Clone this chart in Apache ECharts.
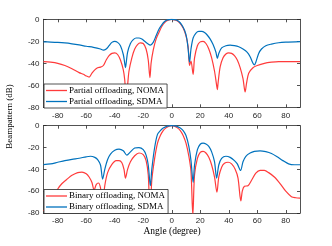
<!DOCTYPE html>
<html>
<head>
<meta charset="utf-8">
<script src="https://cdn.jsdelivr.net/npm/echarts@6/dist/echarts.min.js"></script>
<style>html,body{margin:0;padding:0;background:#fff;}#c{width:332px;height:246px;}</style>
</head>
<body>
<div id="c"></div>
<script>
const xTicks = [-80, -60, -40, -20, 0, 20, 40, 60, 80];
const yTicks = [0, -20, -40, -60, -80];
const seriesNames = ['Partial offloading, NOMA', 'Partial offloading, SDMA', 'Binary offloading, NOMA', 'Binary offloading, SDMA'];

const partialNoma = [[-90,-38.5],[-85,-39],[-80,-40],[-75,-42],[-70,-45],[-65,-48.5],[-62,-50],[-60,-51.5],[-58,-52.5],[-56,-49],[-54,-46],[-52,-44],[-50,-43.5],[-48,-42],[-46,-37],[-44,-33],[-42,-31],[-40,-30.5],[-38,-32],[-36,-37],[-34,-46],[-33,-55],[-32,-72],[-31,-60],[-30,-47],[-28,-35],[-26,-27],[-24,-23],[-22,-21.5],[-20,-22],[-18,-27],[-16.5,-37],[-15.3,-53],[-14.5,-40],[-13,-28],[-11,-18],[-9,-12],[-7,-6.5],[-5,-3],[-3,-1],[0,0],[2,-0.5],[4,-1.5],[6,-4],[8,-8],[10,-15],[11.5,-25],[12.5,-42],[13.5,-38],[15,-50],[16,-35],[18,-24],[20,-20.5],[22,-20],[24,-22],[26,-27],[28,-35],[30,-47],[31.5,-60],[32,-64],[32.5,-58],[34,-43],[36,-35],[38,-31.5],[40,-30.5],[42,-31],[44,-33],[46,-37],[48,-44],[50,-54],[51.5,-66],[52.5,-58],[54,-49],[57,-44],[60,-42],[65,-40],[70,-39],[75,-38.5],[80,-38.5],[90,-38.5]];

const partialSdma = [[-90,-20.5],[-85,-20.7],[-80,-21],[-75,-21.5],[-70,-22.3],[-65,-23.3],[-60,-24.5],[-55,-25.5],[-50,-27],[-48,-28],[-46,-27],[-44,-24],[-42,-21],[-40,-20],[-38,-21],[-36,-24],[-34,-32],[-33,-40],[-32.5,-44],[-32,-40],[-31,-30],[-29,-22],[-27,-18.5],[-25,-17],[-23,-17],[-21,-18],[-19,-20],[-17,-22],[-15,-23.5],[-13,-21],[-11,-15],[-9,-9],[-7,-5],[-5,-2],[-3,-0.5],[0,0],[3,-0.5],[5,-2],[7,-5],[9,-10],[10.5,-17],[11.5,-27],[12.5,-39],[13.5,-27],[15,-17],[17,-12.5],[19,-11],[21,-11],[23,-12],[25,-14.5],[27,-18],[29,-23],[31,-30],[32,-35.5],[33,-31],[35,-26],[38,-24],[41,-23.5],[44,-24],[47,-25],[50,-27],[53,-30],[55,-34],[57,-40],[58,-41.5],[59,-39],[61,-31],[63,-27],[66,-24],[70,-22.5],[75,-21.3],[80,-20.8],[90,-20.3]];

const binaryNoma = [[-90,-78],[-86,-72],[-83,-65],[-80,-58],[-77,-53],[-73,-48.5],[-70,-45.5],[-66,-43],[-63,-42.5],[-60,-44],[-58,-47],[-56,-52],[-54.5,-59],[-53,-54],[-51.5,-52.5],[-50,-57],[-48.5,-72],[-47,-55],[-45,-43],[-42,-35.5],[-39,-32],[-37,-32],[-35,-34],[-33.5,-40],[-32.5,-48],[-31,-40],[-29,-33],[-26,-27.5],[-23,-25],[-20,-26.5],[-18,-32],[-16.5,-45],[-15.2,-82],[-14,-50],[-12,-30],[-10,-16],[-8,-9],[-6,-4.5],[-4,-2],[-2,-0.5],[0,0],[2,-0.5],[4,-2],[6,-4.5],[8,-9],[10,-16],[12,-28],[13.5,-42],[14.8,-82],[16,-45],[18,-30],[20,-24.5],[22,-23.5],[24,-25],[26,-29],[28,-36],[30,-47],[31.7,-61],[33,-47],[35,-38],[37,-34.5],[39.5,-33.5],[42,-35],[44.5,-40],[46.5,-48],[48.5,-69],[49.5,-60],[51,-55.5],[53.5,-55],[56,-50],[59,-43.5],[62,-41],[65,-41],[68,-43],[72,-47],[76,-53],[80,-60],[84,-65],[87,-66],[90,-66.3]];

const binarySdma = [[-90,-35.7],[-85,-35],[-80,-33.5],[-75,-32],[-70,-30.8],[-65,-29.8],[-60,-28.5],[-57,-28],[-54,-29],[-52,-31],[-50,-36],[-48.5,-49],[-47,-40],[-45,-31],[-43,-26],[-40,-22.5],[-37,-21.5],[-34,-23],[-31.5,-27],[-29,-24],[-26,-20.5],[-23,-20],[-20,-22],[-18,-27],[-16.5,-36],[-15,-55],[-14,-40],[-12,-20],[-10,-8],[-8,-4.5],[-6,-2.2],[-4,-0.8],[-2,-0.2],[0,0],[2,-0.2],[4,-0.8],[6,-2.2],[8,-4.5],[10,-9],[12,-19],[13.5,-32],[15,-52],[16,-36],[18,-22],[20,-17],[22,-16],[24,-16.8],[26,-19],[28,-24],[30,-33],[31.5,-48],[33,-36],[35,-30],[38,-28],[41,-29],[44,-32],[46,-35],[48.3,-41],[50,-33],[52,-28],[55,-25],[58,-23.5],[62,-23],[66,-23.8],[70,-25.5],[74,-28.5],[78,-32],[82,-35],[86,-35.8],[90,-35.8]];

const RED = '#ff3b3b', BLUE = '#0072bd', AX = '#262626';
const LF = 'Liberation Sans, Arial, sans-serif';
const SF = 'Liberation Serif, Times New Roman, serif';

function xAx(gi, pos, labels) {
  return {
    type: 'value', gridIndex: gi, position: pos, min: -90, max: 90,
    axisLine: { show: true, onZero: false, lineStyle: { color: AX, width: 0.8 } },
    axisTick: { show: true, inside: true, length: 3, customValues: xTicks, lineStyle: { color: AX, width: 0.8 } },
    axisLabel: { show: labels, customValues: xTicks, color: AX, fontFamily: LF, fontSize: 8, margin: 4 },
    splitLine: { show: false }
  };
}
function yAx(gi, pos, labels) {
  return {
    type: 'value', gridIndex: gi, position: pos, min: -80, max: 0, interval: 20,
    axisLine: { show: true, onZero: false, lineStyle: { color: AX, width: 0.8 } },
    axisTick: { show: true, inside: true, length: 3, lineStyle: { color: AX, width: 0.8 } },
    axisLabel: { show: labels, color: AX, fontFamily: LF, fontSize: 8, margin: 4 },
    splitLine: { show: false }
  };
}
function ser(name, data, color, ax) {
  return {
    name: name, type: 'line', data: data, xAxisIndex: ax, yAxisIndex: ax,
    symbol: 'none', smooth: 0.3, clip: true,
    lineStyle: { color: color, width: 1.2 }, itemStyle: { color: color }
  };
}
function leg(names, top) {
  return {
    data: names, orient: 'vertical', left: 44, top: top,
    icon: 'rect', itemWidth: 21, itemHeight: 1.3, itemGap: 0, padding: [1, 3, 1, 2],
    backgroundColor: '#fff', borderColor: AX, borderWidth: 0.8,
    textStyle: { fontFamily: SF, fontSize: 9, color: '#000', lineHeight: 11, padding: [0,0,0,-3] }
  };
}

const chart = echarts.init(document.getElementById('c'), null, { renderer: 'canvas' });
chart.setOption({
  animation: false,
  backgroundColor: '#fff',
  grid: [
    { left: 43.5, top: 19.3, width: 256.5, height: 88 },
    { left: 43.5, top: 125.7, width: 256.5, height: 87.3 }
  ],
  xAxis: [xAx(0, 'bottom', true), xAx(1, 'bottom', true), xAx(0, 'top', false), xAx(1, 'top', false)],
  yAxis: [yAx(0, 'left', true), yAx(1, 'left', true), yAx(0, 'right', false), yAx(1, 'right', false)],
  legend: [leg([seriesNames[0], seriesNames[1]], 84), leg([seriesNames[2], seriesNames[3]], 189.5)],
  series: [
    ser(seriesNames[0], partialNoma, RED, 0),
    ser(seriesNames[1], partialSdma, BLUE, 0),
    ser(seriesNames[2], binaryNoma, RED, 1),
    ser(seriesNames[3], binarySdma, BLUE, 1)
  ],
  graphic: [
    { type: 'text', x: 10, y: 116.5, rotation: Math.PI / 2,
      style: { text: 'Beampattern (dB)', fontFamily: SF, fontSize: 9, fill: '#000', align: 'center', verticalAlign: 'middle' } },
    { type: 'text', x: 172, y: 231.5,
      style: { text: 'Angle (degree)', fontFamily: SF, fontSize: 9.5, fill: '#000', align: 'center', verticalAlign: 'middle' } }
  ]
});
</script>
</body>
</html>
